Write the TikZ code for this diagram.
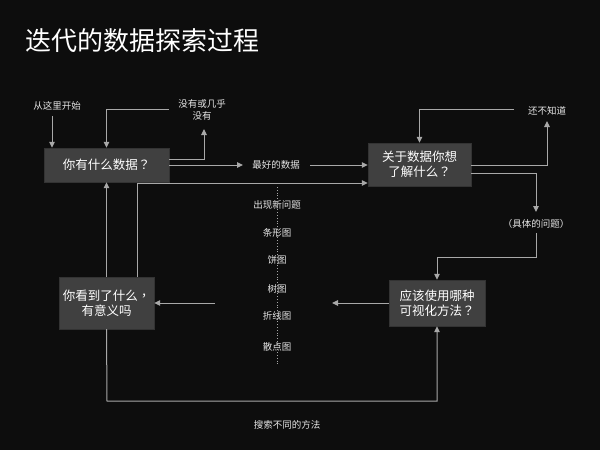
\documentclass[tikz,border=0pt]{standalone}
\usepackage{fontspec}
\setmainfont{Noto Sans CJK SC}
\newfontfamily\tcpunct{Noto Sans CJK TC}
\newcommand{\qm}{{\tcpunct ？}}
\newcommand{\cm}{{\tcpunct ，}}
\usetikzlibrary{arrows.meta}
\definecolor{bg}{HTML}{0D0D0D}
\definecolor{boxfill}{HTML}{404040}
\definecolor{linec}{HTML}{A8A8A8}
\definecolor{txt}{HTML}{E6E6E6}
\begin{document}
\begin{tikzpicture}[x=1pt,y=-1pt,
  box/.style={draw=boxfill!80!black,fill=boxfill,text=white,font=\fontsize{12.5}{15}\selectfont,align=center,inner sep=0pt},
  lbl/.style={text=txt,font=\fontsize{9.5}{11.5}\selectfont,align=center,inner sep=1pt},
  conn/.style={draw=linec,line width=1pt,-{Triangle[length=6pt,width=5.5pt]}},
  plain/.style={draw=linec,line width=1pt}]
\fill[bg] (0,0) rectangle (600,450);
\useasboundingbox (0,0) rectangle (600,450);
\node[text=white,font=\fontsize{26}{30}\selectfont,anchor=west,inner sep=0pt] (title) at (25,41) {迭代的数据探索过程};

% boxes
\node[box,minimum width=125pt,minimum height=34pt] (b1) at (106.5,165) {你有什么数据\qm};
\node[box,minimum width=103pt,minimum height=43pt] (b2) at (419.5,164.5) {关于数据你想\\了解什么\qm};
\node[box,minimum width=95pt,minimum height=52pt] (b3) at (106.5,303) {你看到了什么\cm\\有意义吗};
\node[box,minimum width=96pt,minimum height=46pt] (b4) at (437,303) {应该使用哪种\\可视化方法\qm};

% labels
\node[lbl] (start) at (57,106) {从这里开始};
\node[lbl] (none) at (202,110) {没有或几乎\\没有};
\node[lbl] (best) at (276,165) {最好的数据};
\node[lbl] (dk) at (547,111) {还不知道};
\node[lbl] (spec) at (536,224) {（具体的问题）};
\node[lbl] (search) at (287,425) {搜索不同的方法};
\node[lbl] (q1) at (277,205) {出现新问题};
\node[lbl] (q2) at (277,233) {条形图};
\node[lbl] (q3) at (277,260) {饼图};
\node[lbl] (q4) at (277,289) {树图};
\node[lbl] (q5) at (277,316) {折线图};
\node[lbl] (q6) at (277,347) {散点图};

\coordinate (dtop) at (277,187);
\coordinate (dbot) at (277,364);
\draw[linec,line width=0.8pt,dotted] (dtop) -- (dbot);

% start arrow
\coordinate (s1) at (52,116);
\draw[conn] (s1) -- (s1 |- b1.north);

% b1 -> none
\coordinate (n1) at (204,129);
\draw[conn] (b1.east |- 0,159) -| (n1);
\coordinate (n2) at (169,109);
\draw[conn] (n2) -| (b1.north);

% b1 -> best -> b2
\coordinate (bestL) at (243,165);
\draw[conn] (b1.east |- 0,165) -- (bestL);
\coordinate (bestR) at (310,165);
\draw[conn] (bestR) -- (b2.west |- bestR);

% b3 -> b2
\coordinate (c1) at (137,183);
\draw[conn] (c1 |- b3.north) -- (c1) -- (b2.west |- c1);

% b3 -> b1
\draw[conn] (b3.north) -- (b1.south);

% b3 -> b4 bottom loop
\coordinate (lb) at (107,401);
\draw[conn] (b3.south) -- (lb) -| (b4.south);

% b2 -> dk
\coordinate (d1) at (547,121);
\draw[conn] (b2.east |- 0,165) -| (d1);
\coordinate (d2) at (514,109);
\draw[conn] (d2) -| (b2.north);

% b2 -> spec
\coordinate (sp1) at (536,212);
\draw[conn] (b2.east |- 0,173) -| (sp1);
\coordinate (sp2) at (536,233);
\coordinate (sp3) at (536,257);
\draw[conn] (sp2) -- (sp3) -| (b4.north);

% b4 -> b3
\coordinate (l1) at (332,303);
\draw[conn] (b4.west) -- (l1);
\coordinate (l2) at (215,303);
\draw[conn] (l2) -- (b3.east);
\end{tikzpicture}
\end{document}
